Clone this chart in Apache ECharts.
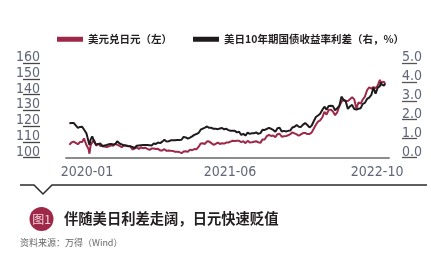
<!DOCTYPE html>
<html>
<head>
<meta charset="utf-8">
<script src="https://cdn.jsdelivr.net/npm/echarts@6/dist/echarts.min.js"></script>
<style>
html,body{margin:0;padding:0;background:#fff;}
#c{width:431px;height:254px;}
</style>
</head>
<body>
<div id="c"></div>
<script>
// ---- data ----
const dates = [
'2020-01-03','2020-01-10','2020-01-17','2020-01-24','2020-01-31','2020-02-07','2020-02-14','2020-02-20','2020-02-28',
'2020-03-06','2020-03-09','2020-03-13','2020-03-18','2020-03-24','2020-03-31','2020-04-07','2020-04-14','2020-04-21',
'2020-04-28','2020-05-05','2020-05-12','2020-05-19','2020-05-26','2020-06-02','2020-06-08','2020-06-16','2020-06-23',
'2020-06-30','2020-07-07','2020-07-14','2020-07-21','2020-07-28','2020-08-04','2020-08-11','2020-08-18','2020-08-25',
'2020-09-01','2020-09-08','2020-09-15','2020-09-22','2020-09-29','2020-10-06','2020-10-13','2020-10-20','2020-10-27',
'2020-11-03','2020-11-10','2020-11-17','2020-11-24','2020-12-01','2020-12-08','2020-12-15','2020-12-22','2020-12-29',
'2021-01-05','2021-01-12','2021-01-19','2021-01-26','2021-02-02','2021-02-09','2021-02-16','2021-02-23','2021-03-02',
'2021-03-09','2021-03-16','2021-03-23','2021-03-30','2021-04-06','2021-04-13','2021-04-20','2021-04-27','2021-05-04',
'2021-05-11','2021-05-18','2021-05-25','2021-06-01','2021-06-08','2021-06-15','2021-06-22','2021-06-29','2021-07-06',
'2021-07-13','2021-07-20','2021-07-27','2021-08-03','2021-08-10','2021-08-17','2021-08-24','2021-08-31','2021-09-07',
'2021-09-14','2021-09-21','2021-09-28','2021-10-05','2021-10-12','2021-10-19','2021-10-26','2021-11-02','2021-11-09',
'2021-11-16','2021-11-23','2021-11-30','2021-12-07','2021-12-14','2021-12-21','2021-12-28','2022-01-04','2022-01-11',
'2022-01-18','2022-01-25','2022-02-01','2022-02-08','2022-02-15','2022-02-22','2022-03-01','2022-03-08','2022-03-15',
'2022-03-22','2022-03-29','2022-04-05','2022-04-12','2022-04-19','2022-04-26','2022-05-03','2022-05-10','2022-05-17',
'2022-05-24','2022-05-31','2022-06-07','2022-06-14','2022-06-21','2022-06-28','2022-07-05','2022-07-12','2022-07-19',
'2022-07-26','2022-08-02','2022-08-09','2022-08-16','2022-08-23','2022-08-30','2022-09-06','2022-09-13','2022-09-20',
'2022-09-27','2022-10-04','2022-10-11','2022-10-18','2022-10-21','2022-10-25','2022-11-01','2022-11-04'
];
const usdJpy = [
108.1,109.5,110.1,109.3,108.4,109.8,109.8,112.1,107.9,
105.4,102.4,108.0,107.8,111.2,107.5,108.8,107.3,107.7,
106.9,106.6,107.1,107.7,107.5,108.7,109.3,107.4,106.5,
107.9,107.5,107.2,107.2,105.1,105.7,106.4,105.4,106.4,
105.9,106.2,105.5,104.9,105.7,105.7,105.4,105.5,104.5,
104.5,105.3,104.2,104.5,104.3,104.2,103.6,103.6,103.5,
102.7,103.8,103.9,103.7,105.0,104.6,105.4,105.2,106.7,
108.9,109.0,108.6,110.3,110.1,109.1,108.1,108.6,109.4,
108.6,109.1,108.8,109.5,109.5,110.1,110.6,110.5,110.6,
110.6,109.8,110.3,109.1,110.6,109.6,109.7,110.0,110.3,
109.7,109.3,111.5,111.4,113.6,114.4,113.7,114.0,112.9,
114.8,115.1,113.2,113.5,113.7,114.1,114.8,116.0,115.3,
114.7,113.8,114.7,115.5,115.6,114.9,114.9,115.8,118.3,
120.8,122.8,123.6,125.4,128.9,127.3,130.1,130.4,129.2,
126.9,128.7,132.6,135.4,136.7,136.1,135.8,137.0,138.2,
136.9,131.1,135.0,134.2,136.8,138.7,142.7,144.6,143.7,
144.7,144.0,145.7,149.3,147.7,148.0,148.1,146.6
];
const spread = [
1.81,1.82,1.83,1.70,1.57,1.62,1.63,1.55,1.28,
0.84,0.66,0.96,1.12,0.85,0.68,0.72,0.74,0.58,
0.64,0.66,0.70,0.72,0.69,0.71,0.86,0.74,0.69,
0.64,0.64,0.61,0.59,0.56,0.50,0.62,0.64,0.65,
0.66,0.66,0.66,0.65,0.64,0.74,0.72,0.79,0.76,
0.84,0.94,0.84,0.86,0.91,0.91,0.91,0.92,0.92,
0.94,1.09,1.06,1.00,1.05,1.12,1.20,1.24,1.30,
1.47,1.53,1.58,1.64,1.57,1.57,1.52,1.52,1.50,
1.53,1.56,1.49,1.52,1.45,1.42,1.41,1.41,1.33,
1.36,1.20,1.25,1.16,1.32,1.25,1.28,1.28,1.33,
1.25,1.29,1.47,1.46,1.51,1.57,1.52,1.46,1.36,
1.55,1.58,1.38,1.41,1.38,1.41,1.43,1.59,1.63,
1.72,1.63,1.62,1.74,1.82,1.72,1.59,1.68,1.92,
2.14,2.22,2.31,2.51,2.69,2.53,2.73,2.74,2.72,
2.50,2.61,2.73,3.22,3.04,2.97,2.57,2.71,2.78,
2.57,2.54,2.58,2.61,2.84,2.89,3.10,3.17,3.31,
3.70,3.38,3.69,3.77,3.97,3.85,3.80,3.91
];
const seriesNames = ['美元兑日元（左）', '美日10年期国债收益率利差（右，%）'];
const xTickDates = ['2020-01-02', '2021-06-13', '2022-10-09'];
const xMin = '2019-12-23', xMax = '2022-11-17';
const leftTicks = { min: 100, max: 160, interval: 10 };
const rightTicks = { min: 0, max: 5, interval: 1 };
const figTitle = '伴随美日利差走阔，日元快速贬值';
const figTag = '图1';
const sourceText = '资料来源：万得（Wind）';

const RED = '#9d2848', BLACK = '#1f1a1b';
const LBL = '#5f6679';
const NUMFONT = '"Liberation Sans Narrow","Arial Narrow","DejaVu Sans Condensed",sans-serif';
const CJK = '"Noto Sans CJK SC","Noto Sans",sans-serif';

const ts = d => Date.parse(d + 'T00:00:00Z');
const pad2 = n => (n < 10 ? '0' : '') + n;
const fmtYM = v => { const d = new Date(v); return d.getUTCFullYear() + '-' + pad2(d.getUTCMonth() + 1); };

const chart = echarts.init(document.getElementById('c'), null, { renderer: 'canvas' });
const pair = arr => dates.map((d, i) => [ts(d), arr[i]]);

chart.setOption({
  animation: false,
  backgroundColor: '#fff',
  legend: {
    left: 52, top: 29,
    itemWidth: 26, itemHeight: 5, itemGap: 21,
    icon: 'rect',
    textStyle: { fontFamily: CJK, fontSize: 10.5, fontWeight: 'bold', color: '#231f20' },
    data: seriesNames
  },
  grid: { left: 66, right: 42, top: 63, bottom: 96.5, containLabel: false },
  xAxis: {
    type: 'value', min: ts(xMin), max: ts(xMax),
    axisLine: { show: true, lineStyle: { color: '#8c8c8c', width: 2 } },
    axisTick: { show: false },
    splitLine: { show: false },
    axisLabel: {
      customValues: xTickDates.map(ts),
      margin: 8,
      fontFamily: NUMFONT, fontSize: 14, color: LBL,
      formatter: function (v) {
        const s = fmtYM(v);
        return v === ts(xTickDates[0]) ? '{first|' + s + '}' : s;
      },
      rich: { first: { padding: [0, 0, 0, 36], fontFamily: NUMFONT, fontSize: 14, color: LBL } }
    }
  },
  yAxis: [
    {
      type: 'value', position: 'left', offset: 26,
      min: leftTicks.min, max: leftTicks.max, interval: leftTicks.interval,
      axisLine: { show: false },
      axisTick: { show: true, length: 17, lineStyle: { color: '#444', width: 1.3 } },
      splitLine: { show: false },
      axisLabel: { margin: 0, align: 'right', verticalAlign: 'bottom', lineHeight: 11, fontFamily: NUMFONT, fontSize: 14, color: LBL }
    },
    {
      type: 'value', position: 'right', offset: 13,
      min: rightTicks.min, max: rightTicks.max, interval: rightTicks.interval,
      axisLine: { show: false },
      axisTick: { show: true, length: 15, lineStyle: { color: '#555', width: 1.3 } },
      splitLine: { show: false },
      axisLabel: { margin: 0, align: 'left', verticalAlign: 'bottom', lineHeight: 11, fontFamily: NUMFONT, fontSize: 14, color: LBL,
        formatter: v => v.toFixed(1) }
    }
  ],
  series: [
    { name: seriesNames[0], type: 'line', yAxisIndex: 0, data: pair(usdJpy), showSymbol: false, symbol: 'none',
      lineStyle: { color: RED, width: 2 }, itemStyle: { color: RED } },
    { name: seriesNames[1], type: 'line', yAxisIndex: 1, data: pair(spread), showSymbol: false, symbol: 'none',
      lineStyle: { color: BLACK, width: 2 }, itemStyle: { color: BLACK } }
  ],
  graphic: [
    { type: 'polyline', shape: { points: [[20, 185], [34, 185], [43, 194], [52, 185], [427, 185]] },
      style: { stroke: '#2b2b2b', lineWidth: 1.5, fill: null } },
    { type: 'circle', shape: { cx: 41.5, cy: 219, r: 12 }, style: { fill: RED } },
    { type: 'text', x: 41.5, y: 219, style: { text: figTag, fill: '#f3d3da', font: '12px ' + CJK, align: 'center', verticalAlign: 'middle' } },
    { type: 'text', x: 64, y: 219, style: { text: figTitle, fill: '#231f20', font: 'bold 14.3px ' + CJK, align: 'left', verticalAlign: 'middle' } },
    { type: 'text', x: 20, y: 243, style: { text: sourceText, fill: '#666', font: '9px ' + CJK, align: 'left', verticalAlign: 'middle' } }
  ]
});
</script>
</body>
</html>
